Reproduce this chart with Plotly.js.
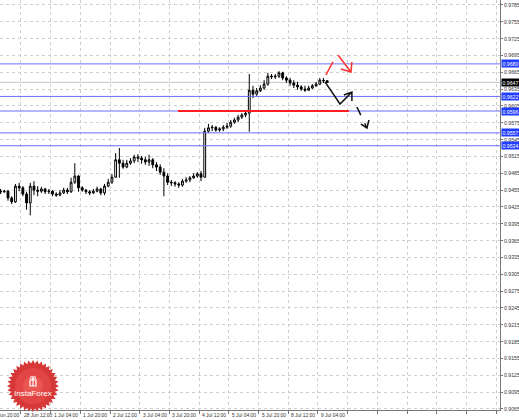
<!DOCTYPE html>
<html>
<head>
<meta charset="utf-8">
<script src="https://cdn.plot.ly/plotly-3.0.1.min.js"></script>
<style>html,body{margin:0;padding:0;background:#fff;}#chart{width:519px;height:420px;}</style>
</head>
<body>
<div id="chart"></div>
<script>
// Time-axis labels (one every 16 hourly bars)
const tickLabels = ['27 Jun 20:00','28 Jun 12:00','1 Jul 04:00','1 Jul 20:00','2 Jul 12:00','3 Jul 04:00',
  '3 Jul 20:00','4 Jul 12:00','5 Jul 04:00','5 Jul 20:00','8 Jul 12:00','9 Jul 04:00'];

// 2-hour candles
const open = [.9453,.9452,.9453,.9441,.9434,.9462,.9459,.9448,.9432,.9462,
 .9455,.9453,.9457,.9452,.9453,.9448,.9446,.9450,.9455,.9452,
 .9469,.9480,.9459,.9455,.9452,.9450,.9453,.9457,.9450,.9462,
 .9469,.9478,.9509,.9503,.9496,.9503,.9507,.9514,.9512,.9509,
 .9505,.9509,.9500,.9496,.9487,.9480,.9469,.9468,.9466,.9464,
 .9471,.9473,.9477,.9480,.9484,.9478,.9560,.9566,.9567,.9562,
 .9564,.9567,.9569,.9576,.9580,.9585,.9589,.9592,.9633,.9626,
 .9632,.9637,.9644,.9658,.9657,.9658,.9664,.9655,.9651,.9646,
 .9642,.9639,.9635,.9633,.9637,.9641,.9644,.9651,.9650];
const high = [.9457,.9455,.9455,.9444,.9466,.9468,.9462,.9452,.9468,.9471,
 .9462,.9461,.9459,.9457,.9455,.9451,.9455,.9459,.9459,.9477,
 .9503,.9482,.9462,.9457,.9455,.9457,.9461,.9459,.9466,.9475,
 .9484,.9521,.9530,.9509,.9509,.9512,.9518,.9519,.9516,.9514,
 .9518,.9512,.9505,.9501,.9494,.9485,.9473,.9471,.9469,.9475,
 .9478,.9480,.9485,.9487,.9489,.9566,.9573,.9571,.9569,.9567,
 .9571,.9575,.9580,.9584,.9589,.9592,.9598,.9662,.9641,.9637,
 .9642,.9651,.9664,.9662,.9662,.9667,.9666,.9658,.9655,.9651,
 .9648,.9642,.9641,.9641,.9644,.9648,.9655,.9655,.9651];
const low = [.9448,.9450,.9436,.9430,.9432,.9453,.9444,.9420,.9410,.9446,
 .9444,.9450,.9448,.9448,.9444,.9443,.9444,.9448,.9448,.9450,
 .9466,.9452,.9452,.9448,.9446,.9448,.9451,.9446,.9446,.9460,
 .9466,.9477,.9477,.9493,.9494,.9500,.9503,.9505,.9502,.9500,
 .9498,.9494,.9489,.9482,.9444,.9464,.9462,.9461,.9459,.9461,
 .9468,.9469,.9475,.9477,.9471,.9477,.9557,.9560,.9559,.9559,
 .9560,.9564,.9566,.9573,.9576,.9582,.9585,.9559,.9619,.9623,
 .9630,.9634,.9641,.9653,.9653,.9655,.9651,.9646,.9641,.9637,
 .9634,.9632,.9630,.9632,.9635,.9639,.9642,.9646,.9646];
const close = [.9452,.9453,.9441,.9434,.9462,.9459,.9448,.9432,.9462,.9455,
 .9453,.9457,.9452,.9453,.9448,.9446,.9450,.9455,.9452,.9469,
 .9480,.9459,.9455,.9452,.9450,.9453,.9457,.9450,.9462,.9469,
 .9478,.9509,.9503,.9496,.9503,.9507,.9514,.9512,.9509,.9505,
 .9509,.9500,.9496,.9487,.9480,.9469,.9468,.9466,.9464,.9471,
 .9473,.9477,.9480,.9484,.9478,.9560,.9566,.9567,.9562,.9564,
 .9567,.9569,.9576,.9580,.9585,.9589,.9592,.9633,.9626,.9632,
 .9637,.9644,.9658,.9657,.9658,.9664,.9655,.9651,.9646,.9642,
 .9639,.9635,.9633,.9637,.9641,.9644,.9651,.9650,.9647];

// Horizontal levels
const blueLevels = [0.9680, 0.9622, 0.9596, 0.9557, 0.9534];
const redLevel = 0.9596;
const currentPrice = 0.9647;

// bar index (hourly bars since first label), 2 bars per candle
const firstBar = 5, barsPerCandle = 2, barsPerLabel = 16;
const xBars = close.map((_, i) => firstBar + barsPerCandle * i);
const tickBars = tickLabels.map((_, i) => barsPerLabel * i);

const W = 500, H = 410; // plot area in px
const xRange = [4.69, 274.1];
const yRange = [0.90629, 0.97939];
const yTick0 = 0.9065, yDtick = 0.003;

const trace = {
  type: 'candlestick', x: xBars, open, high, low, close,
  increasing: {line: {color: '#000', width: 1}, fillcolor: '#fff'},
  decreasing: {line: {color: '#000', width: 1}, fillcolor: '#000'},
  whiskerwidth: 0, hoverinfo: 'skip', showlegend: false
};

const shapes = [];
const annotations = [];
const smallFont = {family: 'Liberation Sans', size: 5.2, color: '#333'};
const xFont = {family: 'Liberation Sans', size: 4.9, color: '#333'};

// y tick labels (as text right of the axis)
for (let v = yTick0; v <= yRange[1] + 1e-9; v += yDtick) {
  annotations.push({xref: 'paper', x: 1, xanchor: 'left', xshift: 2, yref: 'y', y: v, yanchor: 'middle',
    text: v.toFixed(4), showarrow: false, font: smallFont});
}

// current price line
shapes.push({type: 'line', xref: 'paper', x0: 0, x1: 1, yref: 'y', y0: currentPrice, y1: currentPrice,
  line: {color: '#c4c4c4', width: 1}, layer: 'below'});
// blue levels
blueLevels.forEach(v => {
  shapes.push({type: 'line', xref: 'paper', x0: 0, x1: 1, yref: 'y', y0: v, y1: v,
    line: {color: '#6b6bff', width: 1}});
  annotations.push({xref: 'paper', x: 1, xanchor: 'left', xshift: 1, yref: 'y', y: v, yanchor: 'middle',
    text: v.toFixed(4), showarrow: false, bgcolor: '#1f3cff', borderpad: 0.5,
    font: {family: 'Liberation Sans', size: 5.2, color: '#fff'}});
});
annotations.push({xref: 'paper', x: 1, xanchor: 'left', xshift: 1, yref: 'y', y: currentPrice, yanchor: 'middle',
  text: currentPrice.toFixed(4), showarrow: false, bgcolor: '#000', borderpad: 0.5,
  font: {family: 'Liberation Sans', size: 5.2, color: '#fff'}});
// red level
shapes.push({type: 'line', xref: 'x', x0: 100.6, x1: 192.7, yref: 'y', y0: redLevel, y1: redLevel,
  line: {color: '#ff1e1e', width: 2}});

// hand-drawn arrows (data coordinates)
shapes.push({type: 'path', xref: 'x', yref: 'y',
  path: 'M179.8,0.9648 L187.9,0.96085 L194.3,0.96299 M190.0,0.96245 L194.3,0.96299 L194.3,0.96138',
  line: {color: '#111', width: 1.5}});
shapes.push({type: 'path', xref: 'x', yref: 'y', path: 'M197.0,0.96031 L202.4,0.95657',
  line: {color: '#111', width: 1.5, dash: 'dash'}});
shapes.push({type: 'path', xref: 'x', yref: 'y', path: 'M199.2,0.95728 L202.4,0.95657 L203.5,0.95799',
  line: {color: '#111', width: 1.5}});
shapes.push({type: 'path', xref: 'x', yref: 'y', path: 'M180.3,0.96602 L184.1,0.96834',
  line: {color: '#ff3030', width: 1.5}});
shapes.push({type: 'path', xref: 'x', yref: 'y',
  path: 'M186.8,0.96958 L193.8,0.96655 M188.4,0.96709 L193.8,0.96655 L194.3,0.96834',
  line: {color: '#ff3030', width: 1.5}});

// x labels (left aligned at tick, as in the terminal); paper refs so the clipped first one still shows
tickLabels.forEach((t, i) => {
  const xp = (tickBars[i] - xRange[0]) / (xRange[1] - xRange[0]);
  annotations.push({xref: 'paper', x: xp, xanchor: 'left', xshift: i === 0 ? -2 : 1, yref: 'paper', y: 0, yanchor: 'top',
    yshift: -1, text: t, showarrow: false, font: xFont});
});

// logo
const px = (x) => x / W, py = (y) => 1 - y / H;
const cx = 33, cy = 386, rOut = 26, rIn = 22.5, n = 36;
let star = '';
for (let k = 0; k < 2 * n; k++) {
  const a = k * Math.PI / n, r = (k % 2) ? rIn : rOut;
  star += (k ? 'L' : 'M') + px(cx + r * Math.cos(a)).toFixed(5) + ',' + py(cy + r * Math.sin(a)).toFixed(5) + ' ';
}
star += 'Z';
shapes.push({type: 'path', xref: 'paper', yref: 'paper', path: star, fillcolor: '#d63838', line: {width: 0}, layer: 'above'});
shapes.push({type: 'circle', xref: 'paper', yref: 'paper', x0: px(cx - 18), x1: px(cx + 18), y0: py(cy + 18), y1: py(cy - 18),
  fillcolor: '#e24644', line: {width: 0}, layer: 'above'});
shapes.push({type: 'circle', xref: 'paper', yref: 'paper', x0: px(cx - 10), x1: px(cx + 10), y0: py(cy + 10), y1: py(cy - 10),
  fillcolor: '#ea5652', line: {width: 0}, layer: 'above'});
// gift icon
shapes.push({type: 'rect', xref: 'paper', yref: 'paper', x0: px(30), x1: px(36), y0: py(386), y1: py(380),
  line: {color: '#fff', width: 1.2}, layer: 'above'});
shapes.push({type: 'line', xref: 'paper', yref: 'paper', x0: px(33), x1: px(33), y0: py(386), y1: py(378),
  line: {color: '#fff', width: 1.2}, layer: 'above'});
shapes.push({type: 'circle', xref: 'paper', yref: 'paper', x0: px(30.5), x1: px(33), y0: py(379), y1: py(376.5),
  line: {color: '#fff', width: 1}, layer: 'above'});
shapes.push({type: 'circle', xref: 'paper', yref: 'paper', x0: px(33), x1: px(35.5), y0: py(379), y1: py(376.5),
  line: {color: '#fff', width: 1}, layer: 'above'});
annotations.push({xref: 'paper', yref: 'paper', x: px(33), y: py(393.5), xanchor: 'center', yanchor: 'middle',
  text: 'InstaForex', showarrow: false, font: {family: 'Liberation Sans', size: 8, color: '#fff'}});

const layout = {
  width: 519, height: 420,
  margin: {l: 0, r: 19, t: 0, b: 10, pad: 0},
  paper_bgcolor: '#fff', plot_bgcolor: '#fff',
  showlegend: false,
  xaxis: {type: 'linear', range: xRange, tick0: 0, dtick: barsPerLabel, showgrid: true, gridcolor: '#cfcfcf',
    griddash: 'dot', gridwidth: 1, zeroline: false, showticklabels: false, ticks: 'outside', ticklen: 3,
    tickcolor: '#777', showline: true, linecolor: '#777', linewidth: 1, rangeslider: {visible: false}, fixedrange: true},
  yaxis: {side: 'right', range: yRange, tick0: yTick0, dtick: yDtick, showgrid: true,
    gridcolor: '#cfcfcf', griddash: 'dot', gridwidth: 1, zeroline: false, ticks: 'outside', ticklen: 2,
    tickcolor: '#777', showline: true, linecolor: '#777', linewidth: 1, showticklabels: false, fixedrange: true},
  shapes, annotations
};

Plotly.newPlot('chart', [trace], layout, {staticPlot: true, displayModeBar: false});
</script>
</body>
</html>
